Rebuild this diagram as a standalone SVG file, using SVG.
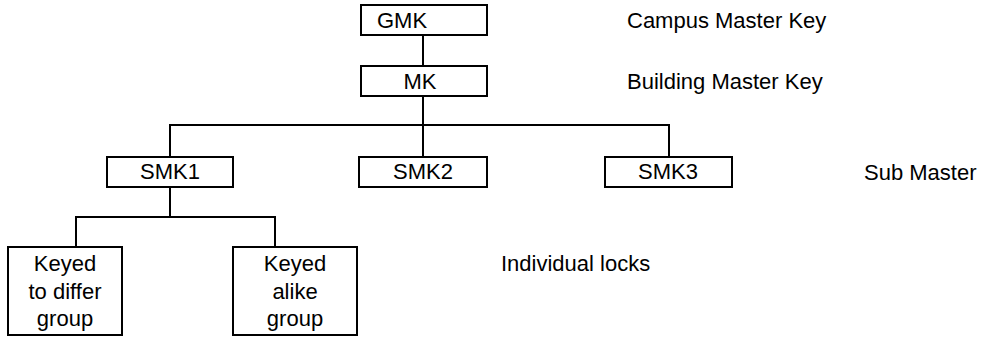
<svg xmlns="http://www.w3.org/2000/svg" width="1001" height="337" viewBox="0 0 1001 337">
  <style>
    .box { fill: #ffffff; stroke: #000000; stroke-width: 2; }
    .wire { fill: none; stroke: #000000; stroke-width: 2; }
    text { font-family: "Liberation Sans", Arial, sans-serif; font-size: 22px; fill: #000000; }
    .mid { text-anchor: middle; }
  </style>
  <rect width="1001" height="337" fill="#ffffff"/>

  <!-- connectors -->
  <g id="connectors">
    <path class="wire" d="M423 35 V66"/>
    <path class="wire" d="M423 96 V157"/>
    <path class="wire" d="M170 157 V125 H669 V157"/>
    <path class="wire" d="M170 187 V217"/>
    <path class="wire" d="M76 247 V217 H275 V247"/>
  </g>

  <!-- key hierarchy -->
  <g id="gmk">
    <rect class="box" x="361" y="5" width="126" height="30"/>
    <text x="377" y="28">GMK</text>
  </g>
  <g id="mk">
    <rect class="box" x="361" y="66" width="126" height="30"/>
    <text class="mid" x="420" y="89">MK</text>
  </g>
  <g id="smk1">
    <rect class="box" x="107" y="157" width="126" height="30"/>
    <text class="mid" x="170" y="179">SMK1</text>
  </g>
  <g id="smk2">
    <rect class="box" x="359" y="157" width="128" height="30"/>
    <text class="mid" x="423" y="179">SMK2</text>
  </g>
  <g id="smk3">
    <rect class="box" x="605" y="157" width="127" height="30"/>
    <text class="mid" x="668" y="179">SMK3</text>
  </g>
  <g id="keyed-differ">
    <rect class="box" x="8" y="247" width="114" height="88"/>
    <text class="mid" x="65" y="271">Keyed</text>
    <text class="mid" x="65" y="299">to differ</text>
    <text class="mid" x="65" y="326">group</text>
  </g>
  <g id="keyed-alike">
    <rect class="box" x="233" y="247" width="124" height="88"/>
    <text class="mid" x="295" y="271">Keyed</text>
    <text class="mid" x="295" y="299">alike</text>
    <text class="mid" x="295" y="326">group</text>
  </g>

  <!-- level labels -->
  <g id="labels">
    <text x="627" y="28">Campus Master Key</text>
    <text x="627" y="89">Building Master Key</text>
    <text x="864" y="180">Sub Master</text>
    <text x="501" y="271">Individual locks</text>
  </g>
</svg>
